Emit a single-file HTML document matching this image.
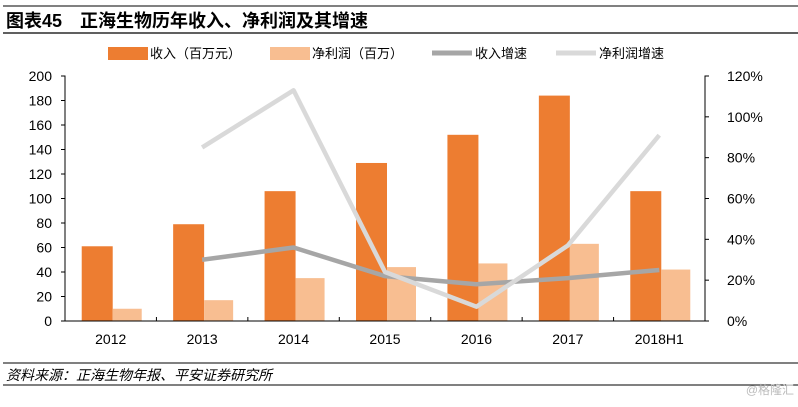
<!DOCTYPE html>
<html><head><meta charset="utf-8"><style>
body{margin:0;background:#fff;width:798px;height:402px;overflow:hidden;font-family:"Liberation Sans","Noto Sans CJK SC",sans-serif;}
</style></head><body>
<svg width="798" height="402" viewBox="0 0 798 402" xmlns="http://www.w3.org/2000/svg" font-family="Liberation Sans, Noto Sans CJK SC, sans-serif">
<line x1="3" y1="6" x2="798" y2="6" stroke="#000" stroke-width="1"/>
<text x="6" y="27" font-size="18" font-weight="bold">图表45<tspan dx="18">正海生物历年收入、净利润及其增速</tspan></text>
<line x1="3" y1="33" x2="798" y2="33" stroke="#000" stroke-width="1.2"/>
<g id="legend" font-size="13">
<g><rect x="108" y="47" width="40" height="13" fill="#ED7D31"/><text x="150" y="58">收入（百万元）</text></g>
<g><rect x="270" y="47" width="40" height="13" fill="#F8BE91"/><text x="312" y="58">净利润（百万）</text></g>
<g><line x1="432" y1="53" x2="472" y2="53" stroke="#A6A6A6" stroke-width="5"/><text x="475" y="58">收入增速</text></g>
<g><line x1="556" y1="53" x2="596" y2="53" stroke="#D9D9D9" stroke-width="5"/><text x="599" y="58">净利润增速</text></g>
</g>
<g id="plot"></g>
<line x1="3" y1="363" x2="798" y2="363" stroke="#000" stroke-width="1"/>
<text x="6" y="380" font-size="14" font-style="italic">资料来源：正海生物年报、平安证券研究所</text>
<line x1="3" y1="385" x2="798" y2="385" stroke="#000" stroke-width="1"/>
<text x="794" y="394" font-size="12" fill="#bbb" text-anchor="end">@格隆汇</text>
</svg>
<script>
const categories=["2012","2013","2014","2015","2016","2017","2018H1"];
const revenue=[61,79,106,129,152,184,106];
const profit=[10,17,35,44,47,63,42];
const revenueGrowth=[null,30,36,22,18,21,25];
const profitGrowth=[null,85,113,24,7,37,91];
const leftTicks=[0,20,40,60,80,100,120,140,160,180,200];
const rightTicks=[0,20,40,60,80,100,120];
const NS="http://www.w3.org/2000/svg";
const g=document.getElementById('plot');
const x0=65,x1=705,yB=321,yT=76;
const cw=(x1-x0)/categories.length;
const yL=v=>yB-(v/200)*(yB-yT);
const yR=v=>yB-(v/120)*(yB-yT);
const xc=i=>x0+cw*(i+0.5);
function mk(t,a){const e=document.createElementNS(NS,t);for(const k in a)e.setAttribute(k,a[k]);g.appendChild(e);return e;}
leftTicks.forEach(v=>{const t=mk('text',{x:52,y:yL(v)+5,'font-size':14,'text-anchor':'end'});t.textContent=v;

});
rightTicks.forEach(v=>{const t=mk('text',{x:727,y:yR(v)+5,'font-size':14});t.textContent=v+'%';

});
categories.forEach((c,i)=>{
const r=mk('rect',{x:xc(i)-29,y:yL(revenue[i]),width:31,height:yB-yL(revenue[i]),fill:'#ED7D31'});


const p=mk('rect',{x:xc(i)+2,y:yL(profit[i]),width:29,height:yB-yL(profit[i]),fill:'#F8BE91'});


const t=mk('text',{x:xc(i),y:344,'font-size':14,'text-anchor':'middle'});t.textContent=c;


});
const ax=mk('path',{d:`M${x0-4} ${yT}H${x0}V${yB}H${x1}V${yT}H${x1+4}`,fill:'none',stroke:'#000','stroke-width':1});


for(let i=0;i<=categories.length;i++){const tk=mk('line',{x1:x0+cw*i,y1:yB,x2:x0+cw*i,y2:yB-4,stroke:'#000'});

}
leftTicks.forEach(v=>{const tk=mk('line',{x1:x0-4,y1:yL(v),x2:x0,y2:yL(v),stroke:'#000'});

});
rightTicks.forEach(v=>{const tk=mk('line',{x1:x1,y1:yR(v),x2:x1+4,y2:yR(v),stroke:'#000'});

});
function line(arr,col,name){let d='';arr.forEach((v,i)=>{if(v==null)return;d+=(d?'L':'M')+xc(i)+' '+yR(v);});
const l=mk('path',{d:d,fill:'none',stroke:col,'stroke-width':4.5,'stroke-linejoin':'round'});

}
line(revenueGrowth,'#A6A6A6','line-revenue-growth');
line(profitGrowth,'#D9D9D9','line-profit-growth');
</script>
</body></html>
